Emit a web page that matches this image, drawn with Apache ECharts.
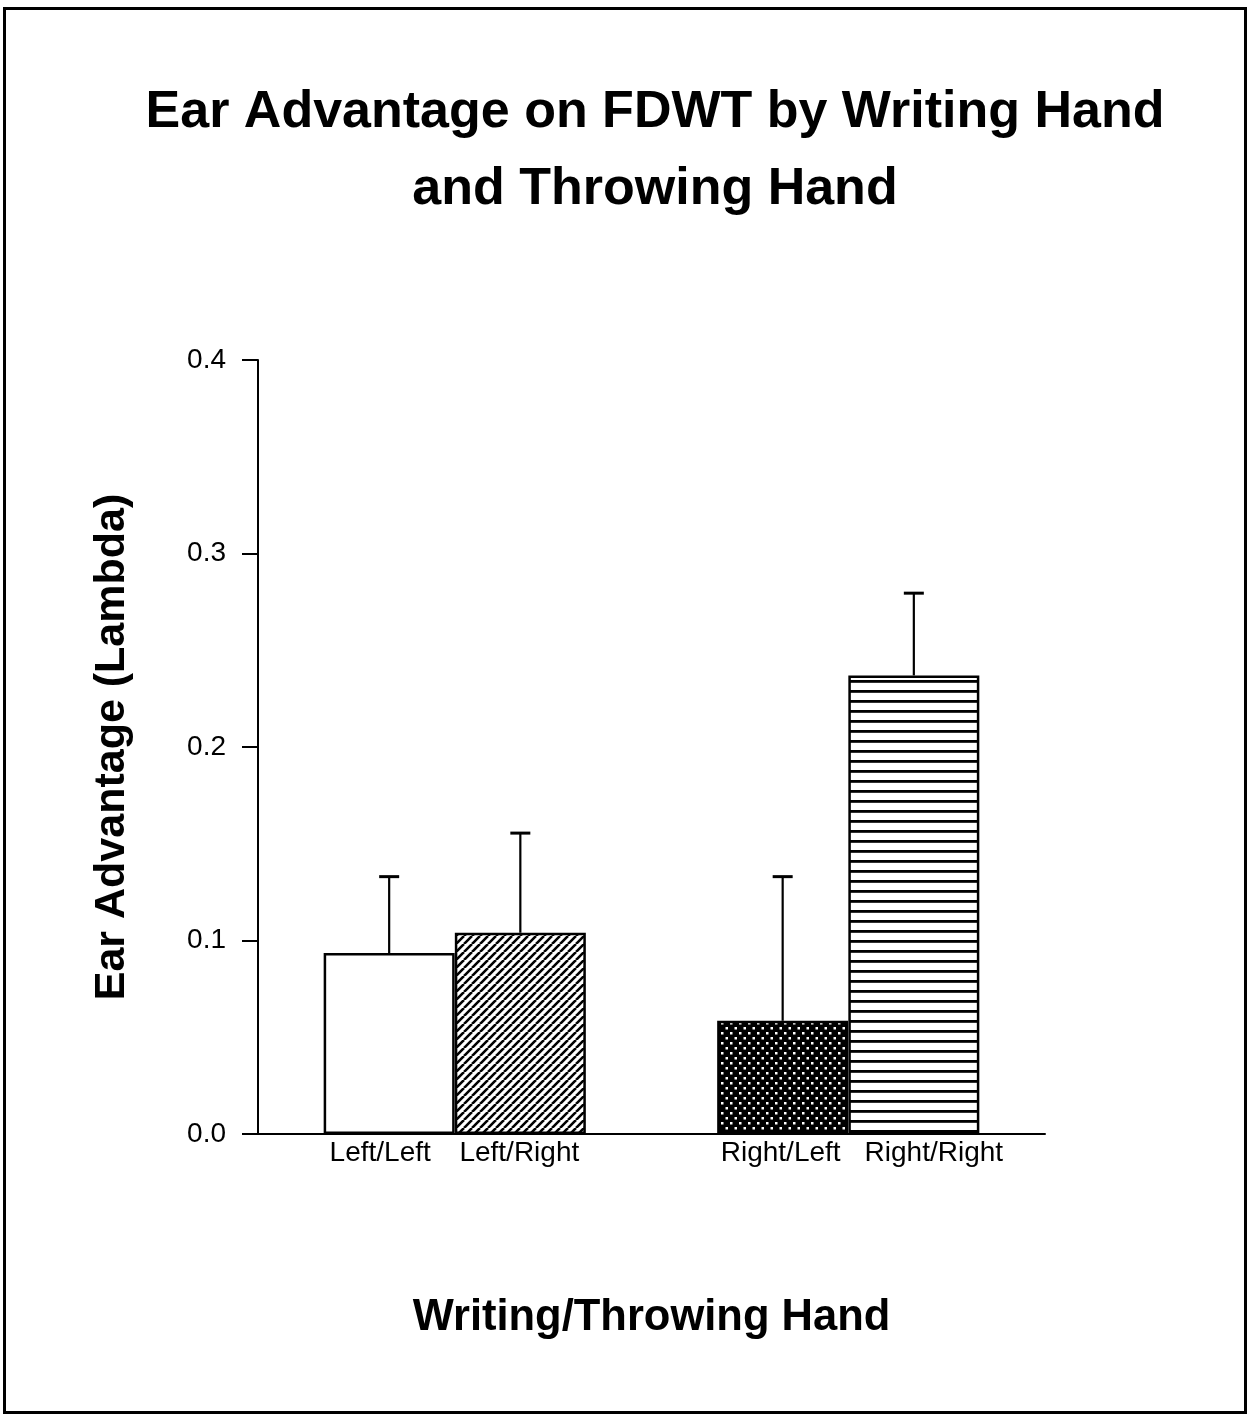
<!DOCTYPE html>
<html>
<head>
<meta charset="utf-8">
<script src="https://cdn.jsdelivr.net/npm/echarts@6/dist/echarts.min.js"></script>
<style>
html,body{margin:0;padding:0;background:#fff;}
#chart{width:1250px;height:1416px;}
</style>
</head>
<body>
<div id="chart"></div>
<script>
// ---- data ----
const categories = ['Left/Left', 'Left/Right', 'Right/Left', 'Right/Right'];
const positions = [1, 2, 4, 5];
const means = [0.0935, 0.104, 0.0585, 0.237];
const errorTops = [0.133, 0.1555, 0.133, 0.2795];
const yTicks = [0.0, 0.1, 0.2, 0.3, 0.4];

const FONT = '"Liberation Sans", Arial, Helvetica, sans-serif';

function makeTile(w, h, draw) {
  const c = document.createElement('canvas');
  c.width = w; c.height = h;
  const ctx = c.getContext('2d');
  draw(ctx, w, h);
  return c;
}
const hatchTile = makeTile(8, 8, (ctx, w, h) => {
  ctx.fillStyle = '#fff'; ctx.fillRect(0, 0, w, h);
  ctx.strokeStyle = '#000'; ctx.lineWidth = 2.6;
  ctx.beginPath();
  for (let k = -1; k <= 1; k++) {
    ctx.moveTo(k * w, h); ctx.lineTo(k * w + w, 0);
  }
  ctx.stroke();
});
const dotTile = makeTile(9, 10, (ctx, w, h) => {
  ctx.fillStyle = '#000'; ctx.fillRect(0, 0, w, h);
  ctx.fillStyle = '#fff';
  ctx.fillRect(1, 2, 2.5, 2.5);
  ctx.fillRect(5.5, 7, 2.5, 2.5);
});
const stripeTile = makeTile(8, 10, (ctx, w, h) => {
  ctx.fillStyle = '#fff'; ctx.fillRect(0, 0, w, h);
  ctx.fillStyle = '#000'; ctx.fillRect(0, 0, w, 2.8);
});
const fills = [
  '#ffffff',
  { image: hatchTile, repeat: 'repeat' },
  { image: dotTile, repeat: 'repeat' },
  { image: stripeTile, repeat: 'repeat' }
];
const labelStyles = ['l0', 'l1', 'l2', 'l3'];

const chart = echarts.init(document.getElementById('chart'), null, { renderer: 'canvas' });

const labelBase = { fontFamily: FONT, fontSize: 28, color: '#000' };

const option = {
  backgroundColor: '#fff',
  animation: false,
  title: {
    text: 'Ear Advantage on FDWT by Writing Hand\nand Throwing Hand',
    left: 655,
    textAlign: 'center',
    top: 74,
    padding: 0,
    textStyle: {
      fontFamily: FONT, fontWeight: 'bold', fontSize: 52, lineHeight: 77, color: '#000'
    }
  },
  graphic: [{
    type: 'rect',
    shape: { x: 4.5, y: 8.5, width: 1241, height: 1404 },
    style: { fill: 'none', stroke: '#000', lineWidth: 3 },
    silent: true
  }],
  grid: { left: 258, right: 205, top: 360, bottom: 282 },
  xAxis: {
    type: 'value',
    min: 0, max: 6,
    name: 'Writing/Throwing Hand',
    nameLocation: 'middle',
    nameGap: 162,
    nameTextStyle: { fontFamily: FONT, fontWeight: 'bold', fontSize: 43.5, color: '#000' },
    axisLine: { show: true, lineStyle: { color: '#000', width: 2 } },
    axisTick: { show: false },
    splitLine: { show: false },
    axisLabel: {
      customValues: positions,
      hideOverlap: false,
      margin: 5,
      fontFamily: FONT, fontSize: 28, color: '#000',
      formatter: v => {
        const i = positions.indexOf(v);
        return i >= 0 ? '{' + labelStyles[i] + '|' + categories[i] + '}' : '';
      },
      rich: {
        l0: Object.assign({ padding: [0, 18, 0, 0] }, labelBase),
        l1: Object.assign({ padding: [0, 2, 0, 0] }, labelBase),
        l2: Object.assign({ padding: [0, 4, 0, 0] }, labelBase),
        l3: Object.assign({ padding: [0, 0, 0, 40] }, labelBase)
      }
    }
  },
  yAxis: {
    type: 'value',
    min: 0, max: 0.4, interval: 0.1,
    name: 'Ear Advantage (Lambda)',
    nameLocation: 'middle',
    nameGap: 124,
    nameRotate: 90,
    nameTextStyle: { fontFamily: FONT, fontWeight: 'bold', fontSize: 43, color: '#000' },
    axisLine: { show: true, lineStyle: { color: '#000', width: 2 } },
    axisTick: { show: true, inside: false, length: 16, lineStyle: { color: '#000', width: 2 } },
    splitLine: { show: false },
    axisLabel: {
      margin: 32,
      fontFamily: FONT, fontSize: 28, color: '#000',
      formatter: v => v.toFixed(1)
    }
  },
  series: [
    {
      type: 'bar',
      barWidth: 131,
      data: positions.map((p, i) => ({
        value: [p, means[i]],
        itemStyle: { color: fills[i], borderColor: '#000', borderWidth: 2.5 }
      })),
      z: 2
    },
    {
      type: 'custom',
      z: 3,
      data: positions.map((p, i) => [p, means[i], errorTops[i]]),
      renderItem: function (params, api) {
        const base = api.coord([api.value(0), api.value(1)]);
        const top = api.coord([api.value(0), api.value(2)]);
        return {
          type: 'group',
          children: [
            { type: 'line', shape: { x1: base[0], y1: base[1], x2: top[0], y2: top[1] },
              style: { stroke: '#000', lineWidth: 2.2 } },
            { type: 'line', shape: { x1: top[0] - 10, y1: top[1], x2: top[0] + 10, y2: top[1] },
              style: { stroke: '#000', lineWidth: 3 } }
          ]
        };
      }
    }
  ]
};
chart.setOption(option);
</script>
</body>
</html>
